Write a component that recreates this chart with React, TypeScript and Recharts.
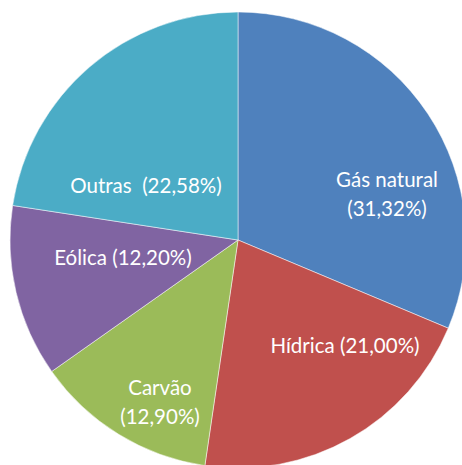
import { PieChart, Pie, Cell } from "recharts";

const categories = ["Gás natural", "Hídrica", "Carvão", "Eólica", "Outras"];
const shares = [31.32, 21.0, 12.9, 12.2, 22.58];
const COLORS = ["#4F81BD", "#C0504D", "#9BBB59", "#8064A2", "#4BACC6"];

// label placement relative to pie centre (Excel "best fit" look)
const LABEL_LAYOUT = [
  { dx: 149, dy: -47, wrap: true, gap: " " },
  { dx: 107, dy: 105, wrap: false, gap: " " },
  { dx: -78, dy: 161, wrap: true, gap: " " },
  { dx: -115, dy: 17, wrap: false, gap: " " },
  { dx: -92, dy: -55, wrap: false, gap: "  " },
];

const data = categories.map((name, i) => ({ name, value: shares[i] }));

const fmt = (v: number) => v.toFixed(2).replace(".", ",");

function SliceLabel(props: any) {
  const { cx, cy, index } = props;
  const layout = LABEL_LAYOUT[index];
  const name = categories[index];
  const pct = `(${fmt(shares[index])}%)`;
  const x = cx + layout.dx;
  const y = cy + layout.dy;
  const style = {
    fontFamily: "Lato, 'Open Sans', sans-serif",
    fontSize: 20.5,
    fill: "#ffffff",
    whiteSpace: "pre" as const,
  };
  if (layout.wrap) {
    return (
      <text x={x} y={y} textAnchor="middle" style={style}>
        <tspan x={x} dy={-14.5} dominantBaseline="central">
          {name}
        </tspan>
        <tspan x={x} dy={29} dominantBaseline="central">
          {pct}
        </tspan>
      </text>
    );
  }
  return (
    <text x={x} y={y} textAnchor="middle" dominantBaseline="central" style={style}>
      {name + layout.gap + pct}
    </text>
  );
}

export default function App() {
  return (
    <div
      style={{
        position: "absolute",
        top: 0,
        left: 0,
        width: 462,
        height: 465,
        overflow: "hidden",
        background: "#ffffff",
      }}
    >
      <PieChart width={462} height={465} margin={{ top: 0, right: 0, bottom: 0, left: 0 }}>
        <Pie
          data={data}
          dataKey="value"
          nameKey="name"
          cx={238}
          cy={240}
          outerRadius={228}
          startAngle={90}
          endAngle={-270}
          stroke="#ffffff"
          strokeWidth={0.5}
          label={SliceLabel}
          labelLine={false}
          isAnimationActive={false}
        >
          {data.map((_, i) => (
            <Cell key={i} fill={COLORS[i]} />
          ))}
        </Pie>
      </PieChart>
    </div>
  );
}
